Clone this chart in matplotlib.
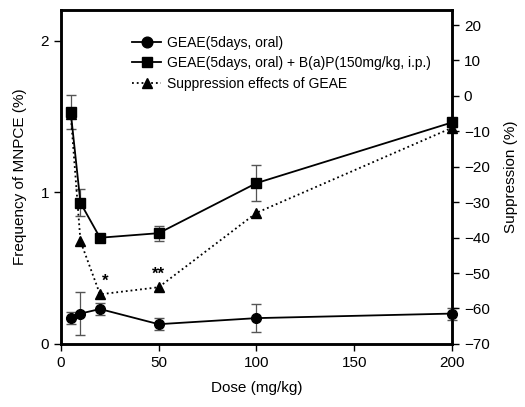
import matplotlib
matplotlib.use('Agg')
from matplotlib import pyplot as plt

plt.rcParams['font.family'] = ['Liberation Sans', 'DejaVu Sans']

# doses (mg/kg)
dose = [5, 10, 20, 50, 100, 200]

# GEAE alone, frequency of MNPCE (%)
geae = [0.17, 0.20, 0.23, 0.13, 0.17, 0.20]
geae_err = [0.04, 0.14, 0.04, 0.04, 0.09, 0.04]

# GEAE + B(a)P
geae_bap = [1.53, 0.93, 0.70, 0.73, 1.06, 1.46]
geae_bap_err = [0.11, 0.09, 0.02, 0.05, 0.12, 0.03]

# suppression effects (%)
suppression = [-5, -41, -56, -54, -33, -9]

fig = plt.figure(figsize=(5.25, 4.07), dpi=100)
ax = fig.add_axes([0.116, 0.155, 0.745, 0.82])
ax2 = ax.twinx()

e1 = ax.errorbar(dose, geae, yerr=geae_err, color='black', marker='o', markersize=7,
                 linewidth=1.3, ecolor='#555555', elinewidth=0.9, capsize=3.5,
                 clip_on=False, zorder=3)
e2 = ax.errorbar(dose, geae_bap, yerr=geae_bap_err, color='black', marker='s', markersize=7,
                 linewidth=1.3, ecolor='#555555', elinewidth=0.9, capsize=3.5,
                 clip_on=False, zorder=3)
l3, = ax2.plot(dose, suppression, color='black', marker='^', markersize=7, linestyle=':',
               linewidth=1.3, clip_on=False)

# significance marks
ax2.text(22.5, -53.5, '*', fontsize=12, fontweight='bold', ha='center')
ax2.text(50, -51.5, '**', fontsize=12, fontweight='bold', ha='center')

ax.set_xlim(0, 200)
ax.set_ylim(0, 2.2)
ax2.set_ylim(-70, 24.2)
ax.set_xticks([0, 50, 100, 150, 200])
ax.set_yticks([0, 1, 2])
ax2.set_yticks(range(-70, 21, 10))

for a in (ax, ax2):
    a.tick_params(direction='out', length=5, width=1, labelsize=11)
    for s in a.spines.values():
        s.set_linewidth(1.8)

ax.set_xlabel('Dose (mg/kg)', fontsize=11, labelpad=8)
ax.set_ylabel('Frequency of MNPCE (%)', fontsize=11, labelpad=10)
ax2.set_ylabel('Suppression (%)', fontsize=11, labelpad=10)

ax.legend([e1[0], e2[0], l3],
          ['GEAE(5days, oral)', 'GEAE(5days, oral) + B(a)P(150mg/kg, i.p.)',
           'Suppression effects of GEAE'],
          loc='upper left', bbox_to_anchor=(0.15, 0.96),
          frameon=False, fontsize=10, handlelength=2.1, labelspacing=0.45,
          handletextpad=0.4, markerscale=1.1)

fig.savefig('out.png', dpi=100)
